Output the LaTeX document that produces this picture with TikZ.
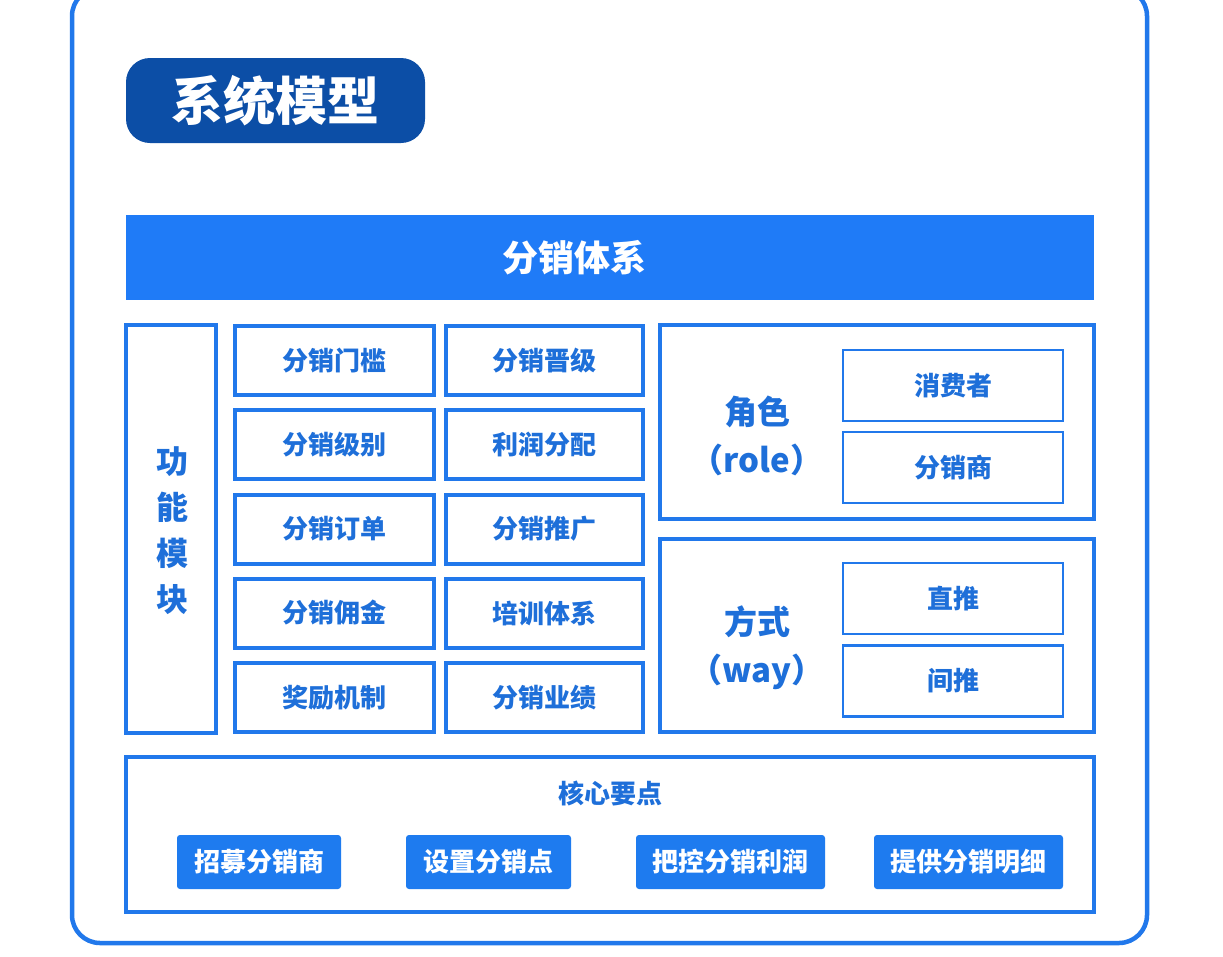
\documentclass[tikz,border=0pt]{standalone}
\usepackage{fontspec}
\setmainfont{Noto Sans CJK SC}
\definecolor{frameblue}{HTML}{2178EB}
\definecolor{bannerblue}{HTML}{1F7BF7}
\definecolor{pillblue}{HTML}{0C4EA6}
\definecolor{textblue}{HTML}{1E6FD9}
\definecolor{btnblue}{HTML}{1E7BEF}
\tikzset{
  boxline/.style={draw=frameblue, line width=4pt, rectangle, inner sep=0pt},
  cell/.style={boxline, minimum height=69pt, text=textblue, font=\fontsize{26}{30}\selectfont\bfseries},
  thincell/.style={draw=frameblue, line width=2.4pt, rectangle, inner sep=0pt, minimum width=220pt, minimum height=71pt, text=textblue, font=\fontsize{26}{30}\selectfont\bfseries},
  btn/.style={fill=btnblue, rounded corners=3pt, rectangle, inner sep=0pt, minimum height=54pt, text=white, font=\fontsize{26}{30}\selectfont\bfseries},
  bluetext/.style={text=textblue, inner sep=0pt},
}
\begin{document}
\begin{tikzpicture}[x=1pt,y=-1pt]
\useasboundingbox (0,0) rectangle (1223,956);
\fill[white] (0,0) rectangle (1223,956);
% outer frame
\node[draw=frameblue, line width=4.5pt, rounded corners=28pt, rectangle, inner sep=0pt,
      minimum width=1075pt, minimum height=955pt] (frame) at (609.5,465.5) {};
% title pill
\node[fill=pillblue, rounded corners=24pt, rectangle, inner sep=0pt,
      minimum width=299pt, minimum height=85pt, text=white,
      font=\fontsize{52}{56}\selectfont\bfseries] (title) at (275.5,100.5) {系统模型};
% banner
\node[fill=bannerblue, rectangle, inner sep=0pt, minimum width=968pt, minimum height=85pt] (banner) at (610,257) {};
\node[text=white, inner sep=0pt, font=\fontsize{36}{40}\selectfont\bfseries] (bannertext) at (574,258) {分销体系};
% function module
\node[boxline, minimum width=90pt, minimum height=408pt] (func) at (171,528.5) {};
\node[bluetext, align=center, font=\fontsize{32}{46}\selectfont\bfseries] (functext) at (172,531) {功\\能\\模\\块};
% grid
\node[cell, minimum width=199pt] (g11) at (334.5,360.5) {分销门槛};
\node[cell, minimum width=197pt] (g12) at (544.5,360.5) {分销晋级};
\node[cell, minimum width=199pt] (g21) at (334.5,444.5) {分销级别};
\node[cell, minimum width=197pt] (g22) at (544.5,444.5) {利润分配};
\node[cell, minimum width=199pt] (g31) at (334.5,529) {分销订单};
\node[cell, minimum width=197pt] (g32) at (544.5,529) {分销推广};
\node[cell, minimum width=199pt] (g41) at (334.5,613) {分销佣金};
\node[cell, minimum width=197pt] (g42) at (544.5,613) {培训体系};
\node[cell, minimum width=199pt] (g51) at (334.5,697.5) {奖励机制};
\node[cell, minimum width=197pt] (g52) at (544.5,697.5) {分销业绩};
% role
\node[boxline, minimum width=434pt, minimum height=194pt] (rolebox) at (877,421.5) {};
\node[bluetext, align=center, font=\fontsize{33}{48}\selectfont\bfseries] (roletext) at (757,436) {角色\\（role）};
\node[thincell] (r1) at (953,385.5) {消费者};
\node[thincell] (r2) at (953,467.5) {分销商};
% way
\node[boxline, minimum width=434pt, minimum height=193pt] (waybox) at (877,635.5) {};
\node[bluetext, align=center, font=\fontsize{33}{48}\selectfont\bfseries] (waytext) at (757,648) {方式\\（way）};
\node[thincell] (w1) at (953,598.5) {直推};
\node[thincell] (w2) at (953,681) {间推};
% core points
\node[boxline, minimum width=968pt, minimum height=155pt] (core) at (610,834.5) {};
\node[bluetext, font=\fontsize{26}{30}\selectfont\bfseries] (coretext) at (610,793) {核心要点};
\node[btn, minimum width=164pt] (b1) at (259,862) {招募分销商};
\node[btn, minimum width=165pt] (b2) at (488.5,862) {设置分销点};
\node[btn, minimum width=189pt] (b3) at (730.5,862) {把控分销利润};
\node[btn, minimum width=189pt] (b4) at (968.5,862) {提供分销明细};
\end{tikzpicture}
\end{document}
